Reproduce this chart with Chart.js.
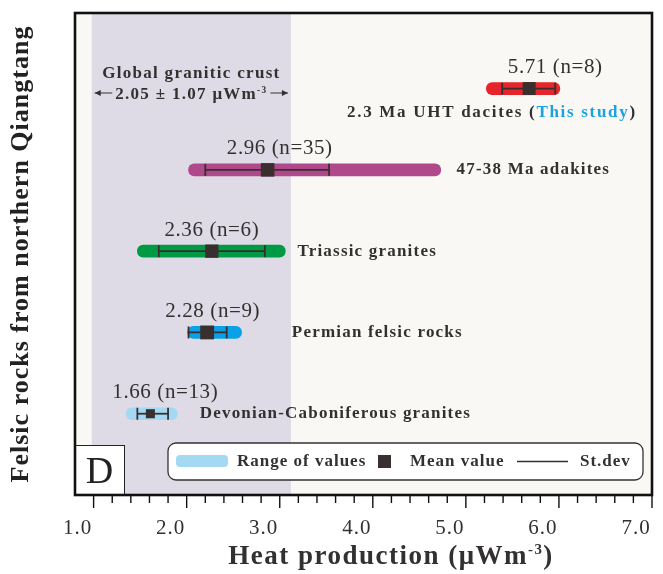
<!DOCTYPE html>
<html>
<head>
<meta charset="utf-8">
<script src="https://cdn.jsdelivr.net/npm/chart.js@4.4.1/dist/chart.umd.min.js"></script>
<style>
  body { margin: 0; background: #fff; }
  canvas { display: block; }
</style>
</head>
<body>
<canvas id="heatChart" width="663" height="574"></canvas>
<script>
// rows from bottom (1) to top (5)
const groupNames = ['Devonian-Caboniferous granites', 'Permian felsic rocks', 'Triassic granites', '47-38 Ma adakites', '2.3 Ma UHT dacites'];
const rowPos = [1, 2, 3, 4, 5];
const meanLabels = ['1.66 (n=13)', '2.28 (n=9)', '2.36 (n=6)', '2.96 (n=35)', '5.71 (n=8)'];
const rangeMin = [1.35, 2.01, 1.47, 2.02, 5.22];
const rangeMax = [1.90, 2.59, 3.06, 4.73, 6.01];
const meanVals = [1.61, 2.22, 2.27, 2.87, 5.68];
const sdLow = [1.47, 2.02, 1.70, 2.20, 5.39];
const sdHigh = [1.80, 2.43, 2.84, 3.53, 5.96];
const xTickValues = [1, 2, 3, 4, 5, 6, 7];
const crustMean = 2.05;
const crustSd = 1.07;

const barColors = ['#a3d9f3', '#0aa0e8', '#009a45', '#b0498b', '#e6242b'];
const darkMark = '#3a2f2f';
const textColor = '#333030';
const serif = '"Liberation Serif", "Times New Roman", serif';
// annotation anchors in axis units: value labels (centred) and group names (left, dacites centred)
const labelX = [1.77, 2.28, 2.27, 3.0, 5.96];
const nameX = [2.14, 3.13, 3.19, 4.9, 5.28];

function drawParts(ctx, parts, x, y, size, bold, align) {
    // parts: [text, isSuperscript]
    const f = s => (bold ? 'bold ' : '') + s + 'px ' + serif;
    let total = 0;
    parts.forEach(([t, sup]) => {
        ctx.font = f(sup ? size * 0.55 : size);
        total += ctx.measureText(t).width;
    });
    let cx = align === 'center' ? x - total / 2 : x;
    ctx.textAlign = 'left';
    parts.forEach(([t, sup]) => {
        ctx.font = f(sup ? size * 0.55 : size);
        ctx.fillText(t, cx, sup ? y - size * 0.38 : y);
        cx += ctx.measureText(t).width;
    });
    return total;
}

function roundRect(ctx, x, y, w, h, r) {
    ctx.beginPath();
    ctx.roundRect(x, y, w, h, r);
}

const decorPlugin = {
    id: 'decor',
    beforeDraw(chart) {
        // the original typesetting is slightly letter-spaced
        chart.ctx.letterSpacing = '1px';
    },
    beforeDatasetsDraw(chart) {
        const { ctx, chartArea: a, scales: { x } } = chart;
        ctx.save();
        ctx.fillStyle = '#f9f8f4';
        ctx.fillRect(a.left, a.top, a.right - a.left, a.bottom - a.top);
        const b0 = x.getPixelForValue(crustMean - crustSd);
        const b1 = x.getPixelForValue(crustMean + crustSd);
        ctx.fillStyle = '#dedbe6';
        ctx.fillRect(b0, a.top, b1 - b0, a.bottom - a.top);

        // global crust note
        ctx.fillStyle = textColor;
        ctx.textBaseline = 'alphabetic';
        ctx.letterSpacing = '1.3px';
        ctx.font = 'bold 17px ' + serif;
        ctx.textAlign = 'center';
        ctx.fillText('Global granitic crust', (b0 + b1) / 2, 78);
        const w = drawParts(ctx, [[crustMean.toFixed(2) + ' \u00b1 ' + crustSd.toFixed(2) + ' \u03bcWm', false], ['-3', true]],
            (b0 + b1) / 2, 99, 17, true, 'center');
        const ay = 93;
        const l1 = (b0 + b1) / 2 - w / 2 - 3, r1 = (b0 + b1) / 2 + w / 2 + 3;
        ctx.strokeStyle = textColor;
        ctx.lineWidth = 1.2;
        ctx.beginPath();
        ctx.moveTo(b0 + 3, ay); ctx.lineTo(l1, ay);
        ctx.moveTo(r1, ay); ctx.lineTo(b1 - 3, ay);
        ctx.stroke();
        ctx.beginPath();
        ctx.moveTo(b0 + 3, ay); ctx.lineTo(b0 + 9, ay - 3); ctx.lineTo(b0 + 9, ay + 3); ctx.closePath();
        ctx.moveTo(b1 - 3, ay); ctx.lineTo(b1 - 9, ay - 3); ctx.lineTo(b1 - 9, ay + 3); ctx.closePath();
        ctx.fillStyle = textColor;
        ctx.fill();
        ctx.restore();
    },
    afterDatasetsDraw(chart) {
        const { ctx, chartArea: a, scales: { x, y } } = chart;
        ctx.save();
        ctx.fillStyle = textColor;
        ctx.textBaseline = 'middle';

        // mean value labels above the bars
        ctx.letterSpacing = '0.6px';
        ctx.font = '21px ' + serif;
        ctx.textAlign = 'center';
        meanLabels.forEach((t, i) => {
            ctx.fillText(t, x.getPixelForValue(labelX[i]), y.getPixelForValue(rowPos[i]) - 21);
        });

        // group names
        ctx.letterSpacing = '1.2px';
        ctx.font = 'bold 17px ' + serif;
        groupNames.forEach((t, i) => {
            const py = y.getPixelForValue(rowPos[i]);
            if (i === 4) {
                const parts = [t + ' (', 'This study', ')'];
                ctx.letterSpacing = '1.7px';
                const widths = parts.map(p => ctx.measureText(p).width);
                let cx = x.getPixelForValue(nameX[i]) - widths.reduce((s, v) => s + v, 0) / 2;
                ctx.textAlign = 'left';
                parts.forEach((p, k) => {
                    ctx.fillStyle = k === 1 ? '#1aa3e0' : textColor;
                    ctx.fillText(p, cx, py + 24);
                    cx += widths[k];
                });
                ctx.fillStyle = textColor;
                ctx.letterSpacing = '1.2px';
            } else {
                ctx.textAlign = 'left';
                ctx.fillText(t, x.getPixelForValue(nameX[i]), py);
            }
        });

        // legend box
        ctx.fillStyle = '#ffffff';
        ctx.strokeStyle = '#333';
        ctx.lineWidth = 1.3;
        roundRect(ctx, 168, 443, 475, 37, 8);
        ctx.fill();
        ctx.stroke();
        ctx.fillStyle = barColors[0];
        roundRect(ctx, 176, 455, 52, 12, 4);
        ctx.fill();
        ctx.fillStyle = darkMark;
        ctx.fillRect(378, 455, 13, 13);
        ctx.strokeStyle = darkMark;
        ctx.lineWidth = 1.5;
        ctx.beginPath();
        ctx.moveTo(517, 461.5); ctx.lineTo(568, 461.5);
        ctx.stroke();
        ctx.fillStyle = textColor;
        ctx.letterSpacing = '1px';
        ctx.font = 'bold 17px ' + serif;
        ctx.textAlign = 'left';
        ctx.fillText('Range of values', 237, 462);
        ctx.fillText('Mean value', 410, 462);
        ctx.fillText('St.dev', 580, 462);

        // panel letter
        ctx.fillStyle = '#ffffff';
        ctx.fillRect(a.left, a.bottom - 49, 49, 49);
        ctx.strokeStyle = '#222';
        ctx.lineWidth = 1;
        ctx.strokeRect(a.left + 0.5, a.bottom - 49.5, 49, 49);
        ctx.fillStyle = '#222';
        ctx.letterSpacing = '0px';
        ctx.font = '38px ' + serif;
        ctx.textAlign = 'center';
        ctx.fillText('D', a.left + 24.5, a.bottom - 22);
        ctx.restore();
    },
    afterDraw(chart) {
        const { ctx, chartArea: a, scales: { x } } = chart;
        ctx.save();
        // frame
        ctx.strokeStyle = '#111';
        ctx.lineWidth = 2.6;
        ctx.strokeRect(a.left, a.top, a.right - a.left, a.bottom - a.top);
        // major and minor ticks every 0.2
        ctx.lineWidth = 1.4;
        ctx.beginPath();
        for (let k = 5; k <= 35; k++) {
            const px = x.getPixelForValue(k / 5);
            const len = k % 5 === 0 ? 13 : 8;
            ctx.moveTo(px, a.bottom);
            ctx.lineTo(px, a.bottom + len);
        }
        ctx.stroke();
        // x title
        ctx.fillStyle = textColor;
        ctx.textBaseline = 'alphabetic';
        ctx.letterSpacing = '1.5px';
        drawParts(ctx, [['Heat production (\u03bcWm', false], ['-3', true], [')', false]], 391, 564, 27, true, 'center');
        ctx.restore();
    }
};

const whiskerSets = rowPos.map((p, i) => ({
    type: 'line',
    indexAxis: 'x',
    data: [{ x: sdLow[i], y: p }, { x: sdHigh[i], y: p }],
    borderColor: darkMark,
    borderWidth: 1.8,
    pointStyle: 'line',
    rotation: 90,
    pointRadius: 6,
    pointBorderWidth: 1.8,
    pointBorderColor: darkMark,
    order: 1
}));

new Chart(document.getElementById('heatChart'), {
    type: 'bar',
    data: {
        datasets: [
            {
                type: 'scatter',
                indexAxis: 'x',
                data: rowPos.map((p, i) => ({ x: meanVals[i], y: p })),
                pointStyle: 'rect',
                pointRadius: [6.4, 9.8, 9.4, 9.6, 9.2],
                backgroundColor: darkMark,
                borderWidth: 0,
                order: 0
            },
            ...whiskerSets,
            {
                type: 'bar',
                indexAxis: 'y',
                data: rowPos.map((p, i) => ({ x: [rangeMin[i], rangeMax[i]], y: p })),
                backgroundColor: barColors,
                barThickness: 12,
                borderRadius: 6,
                borderSkipped: false,
                order: 2
            }
        ]
    },
    options: {
        responsive: false,
        animation: false,
        layout: { padding: { top: 13, right: 11, left: 0, bottom: 0 } },
        plugins: { legend: { display: false }, tooltip: { enabled: false } },
        scales: {
            x: {
                type: 'linear',
                position: 'bottom',
                min: 0.8,
                max: 7.0,
                offset: false,
                afterBuildTicks: s => { s.ticks = xTickValues.map(v => ({ value: v })); },
                afterFit: s => { s.height = 79; s.paddingLeft = 0; s.paddingRight = 0; },
                grid: { display: false, offset: false },
                border: { display: false },
                ticks: {
                    autoSkip: false,
                    maxRotation: 0,
                    padding: 13,
                    labelOffset: -16,
                    color: textColor,
                    font: { family: serif, size: 21 },
                    callback: v => v.toFixed(1)
                }
            },
            y: {
                type: 'linear',
                position: 'left',
                min: 0,
                max: 5.93,
                offset: false,
                afterBuildTicks: s => { s.ticks = []; },
                afterFit: s => { s.width = 75; s.paddingTop = 0; s.paddingBottom = 0; },
                grid: { display: false, offset: false },
                border: { display: false },
                ticks: { display: false },
                title: {
                    display: true,
                    text: 'Felsic rocks from northern Qiangtang',
                    color: '#222',
                    font: { family: serif, size: 26, weight: 'bold' },
                    padding: { top: 6, bottom: 0 }
                }
            }
        }
    },
    plugins: [decorPlugin]
});
</script>
</body>
</html>
